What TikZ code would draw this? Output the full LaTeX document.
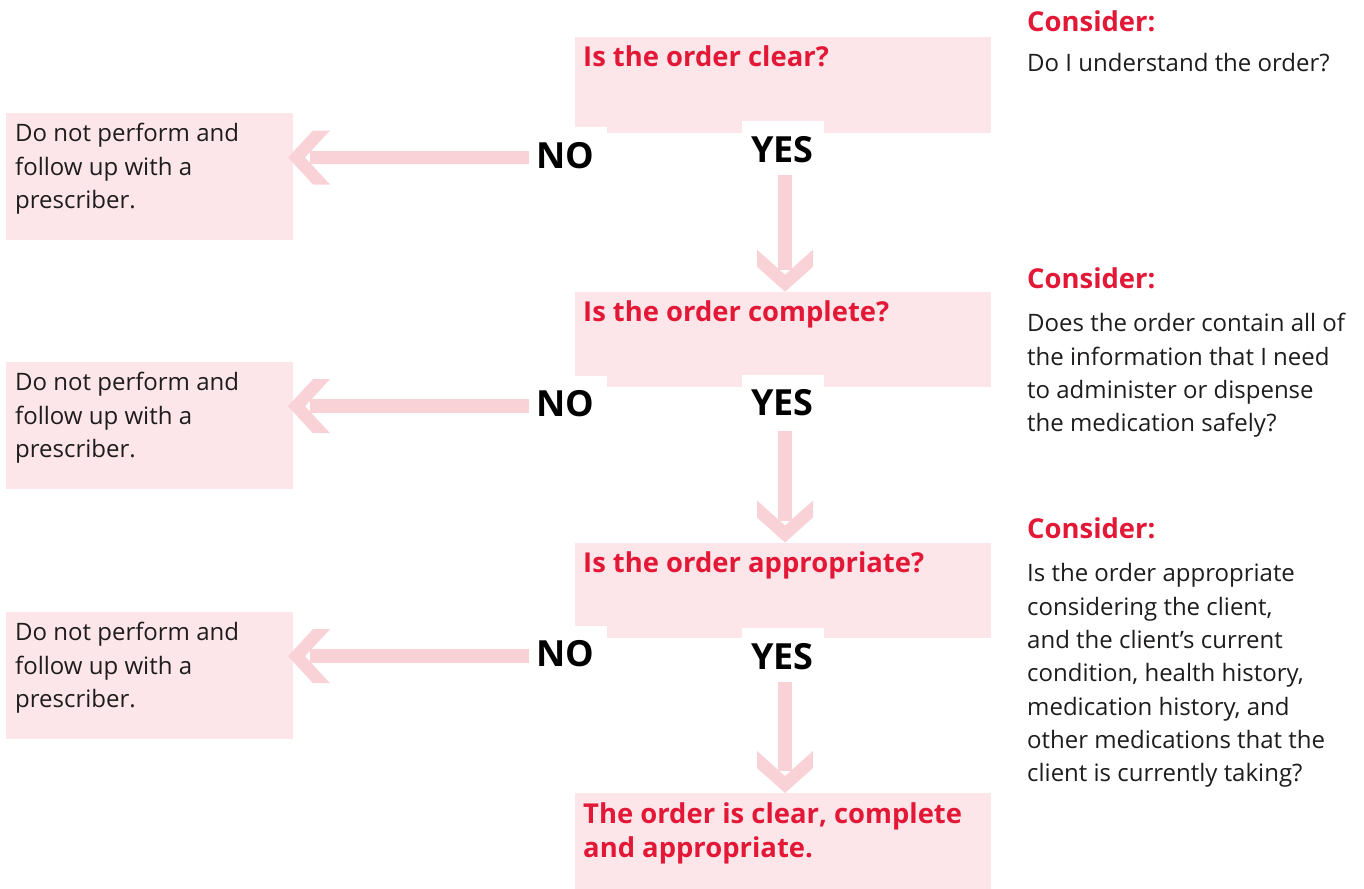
\documentclass[tikz,border=0pt]{standalone}
\usepackage{fontspec}
\setmainfont{Open Sans}
\usetikzlibrary{calc}
\definecolor{tred}{RGB}{227,24,55}
\definecolor{boxc}{RGB}{252,230,234}
\definecolor{arrc}{RGB}{249,210,216}
\definecolor{txt}{RGB}{30,28,28}
\newcommand{\bodyfont}{\fontsize{24}{33.3}\selectfont}
\newcommand{\headfont}{\fontsize{27.4}{34}\selectfont\bfseries}
\newcommand{\ynfont}{\fontsize{36}{40}\selectfont\bfseries}
\newcommand{\topstrut}{\rule{0pt}{30pt}}
\tikzset{
  qbox/.style={fill=boxc, draw=none, anchor=north west, minimum width=416.5pt, inner sep=0pt, outer sep=0pt},
  lbox/.style={fill=boxc, draw=none, anchor=north west, minimum width=287pt, minimum height=127pt, inner sep=0pt, outer sep=0pt},
  qtext/.style={anchor=north west, inner sep=0pt, text=tred, font=\headfont, align=left},
  btext/.style={anchor=north west, inner sep=0pt, text=txt, font=\bodyfont, align=left},
  lab/.style={fill=white, anchor=base, inner xsep=0pt, inner ysep=15pt, text height=25.7pt, text depth=0pt, font=\ynfont, text=black},
  nolab/.style={lab, minimum width=83pt},
  yeslab/.style={lab, minimum width=82pt},
  shaft/.style={draw=arrc, line width=13.5pt},
  head/.style={fill=arrc, draw=none}
}
\newcommand{\lefthead}[1]{\fill[head] (#1) -- ++(25,-27) -- ++(17,0) -- ++(-25,27) -- ++(25,27) -- ++(-17,0) -- cycle;}
\newcommand{\downhead}[1]{\fill[head] (#1) -- ++(-28,-25) -- ++(0,-17) -- ++(28,25) -- ++(28,-25) -- ++(0,17) -- cycle;}
\begin{document}
\begin{tikzpicture}[x=1pt,y=-1pt]
\useasboundingbox (0,0) rectangle (1364,888);
% ---- centre boxes
\node[qbox, minimum height=96pt] (q1) at (574.5,36.7) {};
\node[qbox, minimum height=95pt] (q2) at (574.5,291.7) {};
\node[qbox, minimum height=95.5pt] (q3) at (574.5,542.5) {};
\node[qbox, minimum height=100pt] (q4) at (574.5,793) {};
\node[qtext] (q1t) at ($(q1.north west)+(8.5,0)$) {\topstrut Is the order clear?};
\node[qtext] (q2t) at ($(q2.north west)+(8.5,0)$) {\topstrut Is the order complete?};
\node[qtext] (q3t) at ($(q3.north west)+(8.5,0)$) {\topstrut Is the order appropriate?};
\node[qtext] (q4t) at ($(q4.north west)+(8.5,0)$) {\topstrut The order is clear, complete\\and appropriate.};
% ---- left boxes
\node[lbox] (l1) at (6,113) {};
\node[lbox] (l2) at (6,362) {};
\node[lbox] (l3) at (6,612) {};
\node[btext] (l1t) at ($(l1.north west)+(9,-1.5)$) {\topstrut Do not perform and\\follow up with a\\prescriber.};
\node[btext] (l2t) at ($(l2.north west)+(9,-1.5)$) {\topstrut Do not perform and\\follow up with a\\prescriber.};
\node[btext] (l3t) at ($(l3.north west)+(9,-1.5)$) {\topstrut Do not perform and\\follow up with a\\prescriber.};
% ---- NO / YES labels
\node[nolab] (n1) at (565.5,168) {NO};
\node[nolab] (n2) at (565.5,416.7) {NO};
\node[nolab] (n3) at (565.5,666.7) {NO};
\node[yeslab] (y1) at (782.5,162) {YES};
\node[yeslab] (y2) at (782.5,415.7) {YES};
\node[yeslab] (y3) at (782.5,669) {YES};
% ---- NO arrows
\foreach \i in {1,2,3}{
  \coordinate (sl\i) at ($(n\i.base west)+(5,-10.5)$);
  \coordinate (tl\i) at ($(l\i.east |- sl\i)+(-5,0)$);
  \draw[shaft] (sl\i) -- ($(tl\i)+(22,0)$);
  \lefthead{tl\i}
}
% ---- YES arrows
\coordinate (sd1) at ($(y1.south)+(2.5,-2)$);
\coordinate (sd2) at ($(y2.south)+(2.5,0)$);
\coordinate (sd3) at ($(y3.south)+(2.5,-2)$);
\coordinate (td1) at (q2.north -| sd1);
\coordinate (td2) at (q3.north -| sd2);
\coordinate (td3) at (q4.north -| sd3);
\foreach \i in {1,2,3}{
  \draw[shaft] (sd\i) -- ($(td\i)+(0,-22)$);
  \downhead{td\i}
}
% ---- right column
\node[qtext] (c1) at (1027,1.7) {\topstrut Consider:};
\node[btext] (c1t) at (1027,41.7) {\topstrut Do I understand the order?};
\node[qtext] (c2) at (1027,258.3) {\topstrut Consider:};
\node[btext] (c2t) at (1027,301.7) {\topstrut Does the order contain all of\\the information that I need\\to administer or dispense\\the medication safely?};
\node[qtext] (c3) at (1027,508.3) {\topstrut Consider:};
\node[btext] (c3t) at (1027,551.7) {\topstrut Is the order appropriate\\considering the client,\\and the client’s current\\condition, health history,\\medication history, and\\other medications that the\\client is currently taking?};
\end{tikzpicture}
\end{document}
